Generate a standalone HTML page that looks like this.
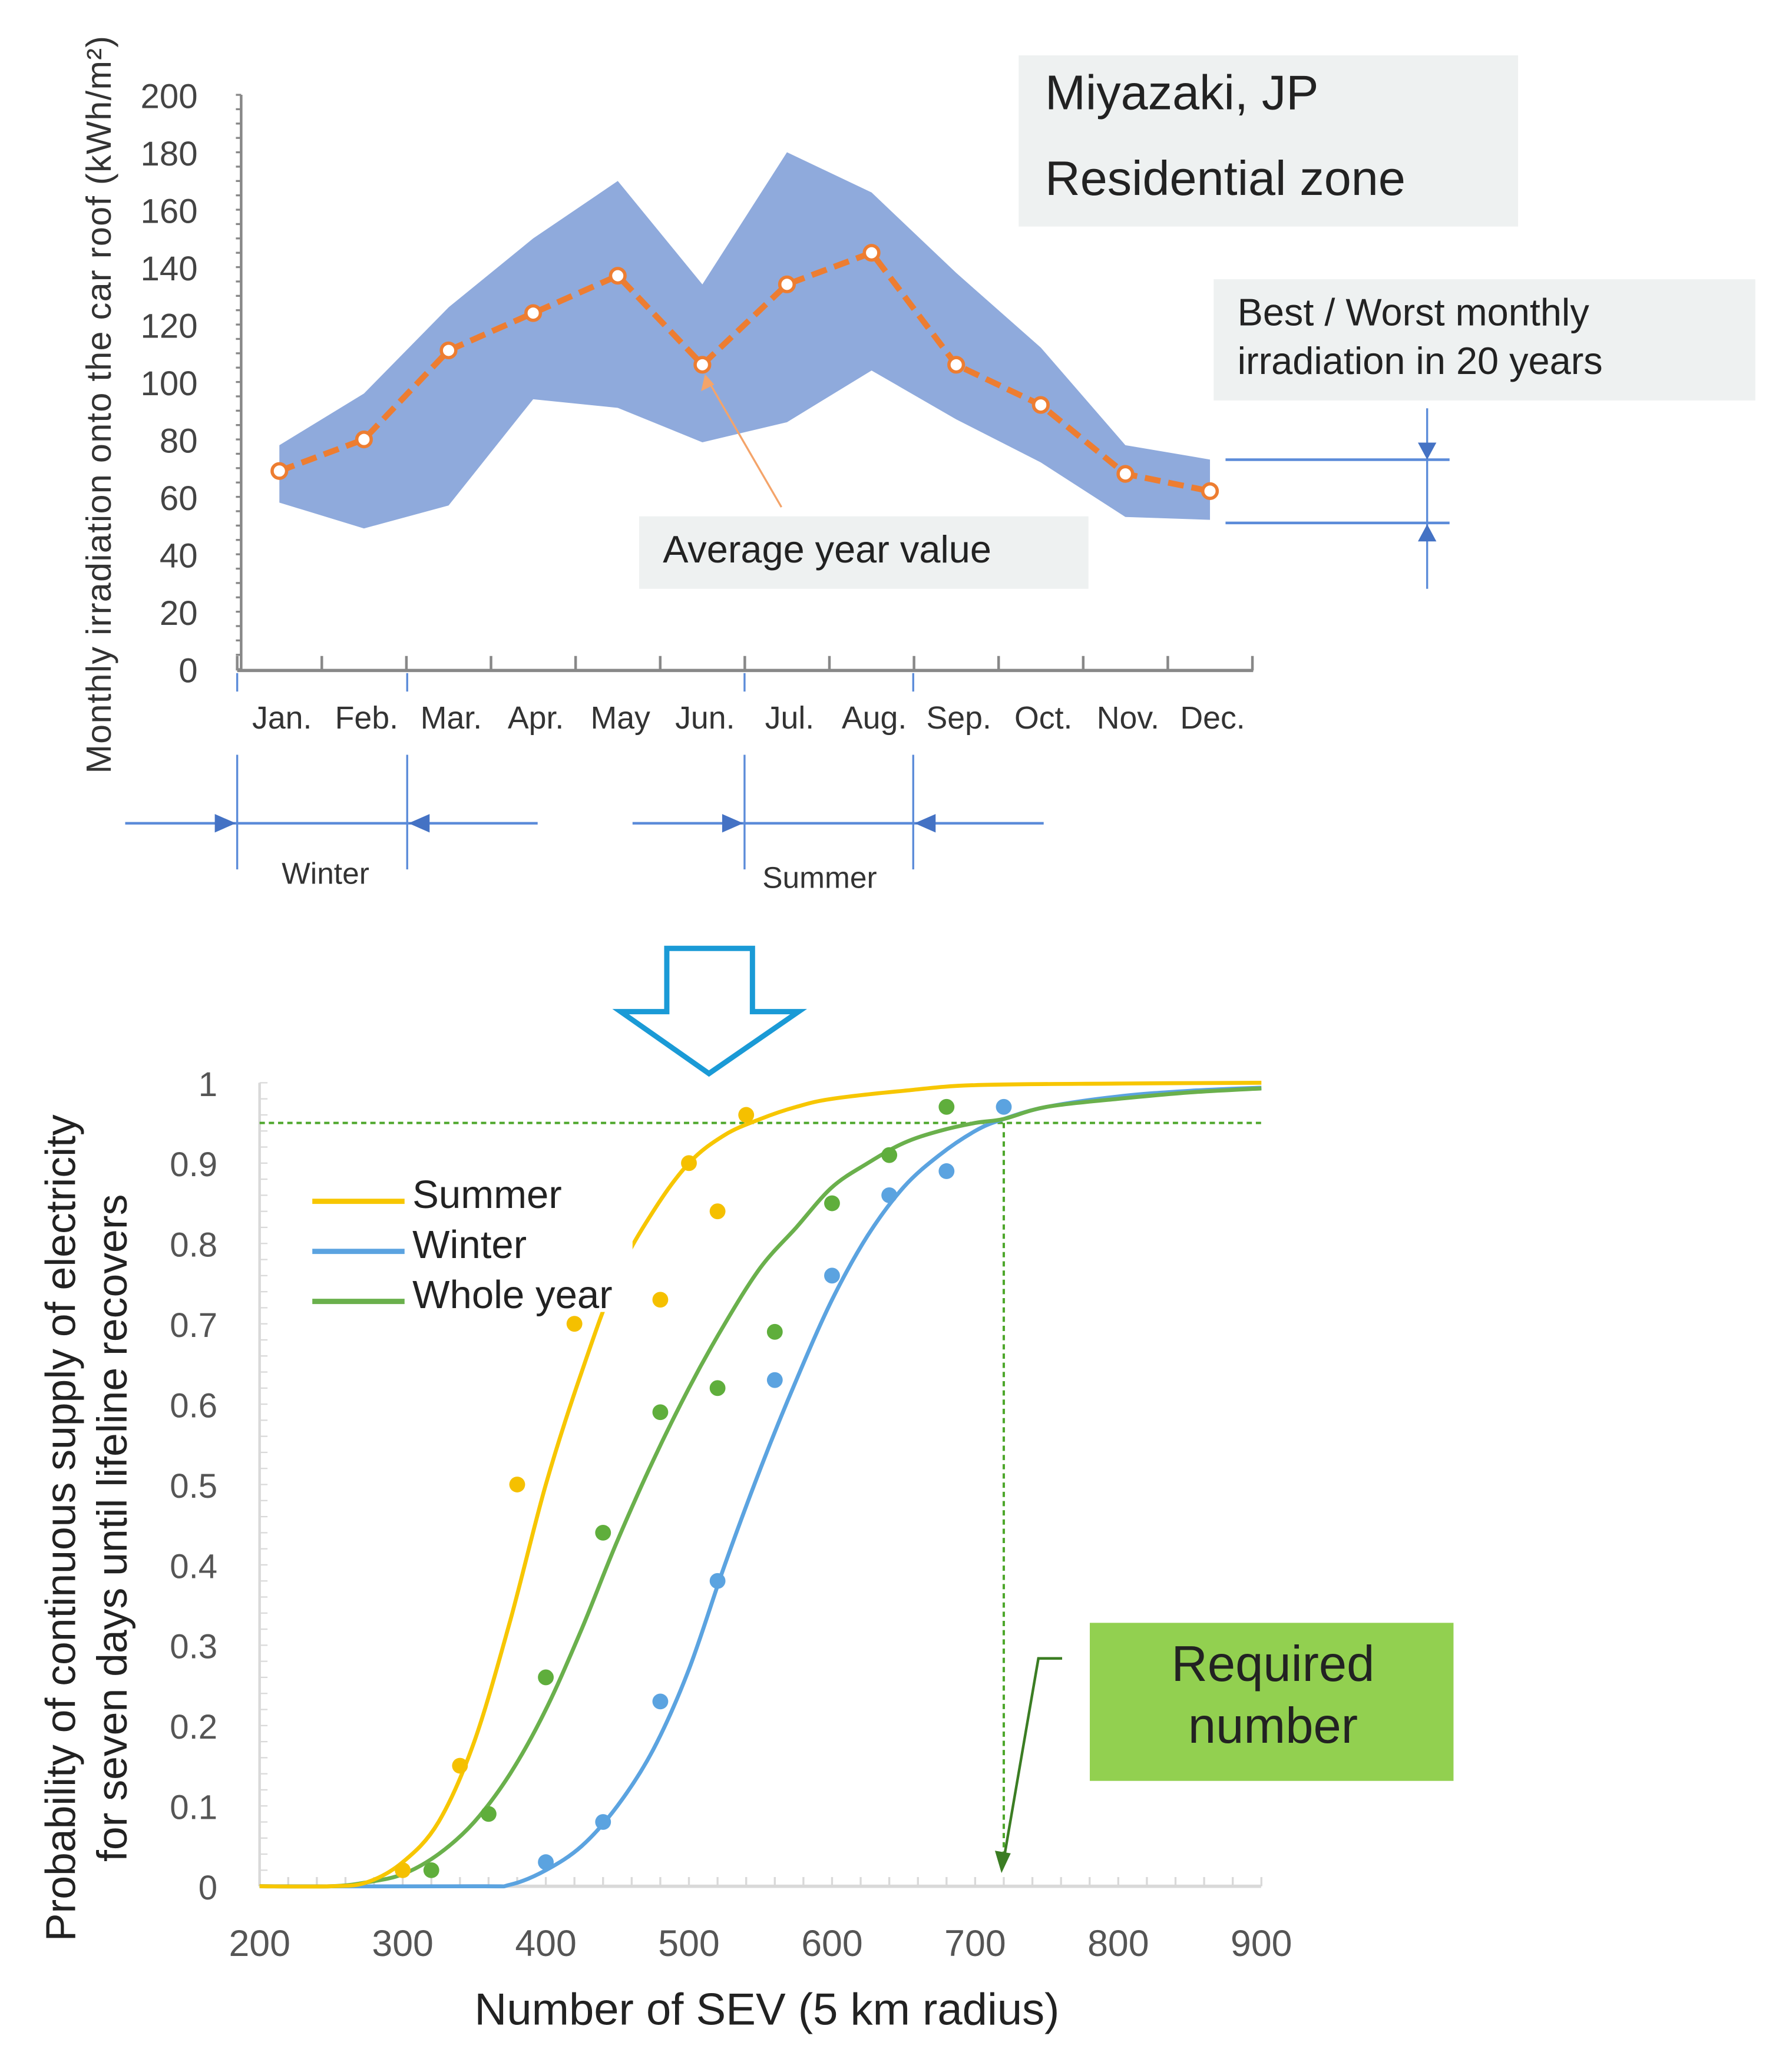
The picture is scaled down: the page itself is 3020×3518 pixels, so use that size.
<!DOCTYPE html>
<html><head><meta charset="utf-8"><style>
html,body{margin:0;padding:0;background:#fff;}
svg{display:block;font-family:"Liberation Sans",sans-serif;}
</style></head><body>
<svg id="fig" width="3020" height="3518" viewBox="0 0 1350 1573" preserveAspectRatio="none" xmlns="http://www.w3.org/2000/svg">
<rect width="1350" height="1573" fill="#fff"/>
<g id="top"></g>
<g id="bottom"></g>
</svg>
<script>
const months = ["Jan.","Feb.","Mar.","Apr.","May","Jun.","Jul.","Aug.","Sep.","Oct.","Nov.","Dec."];
const avgValues = [69,80,111,124,137,106,134,145,106,92,68,62];
const maxValues = [78,96,126,150,170,134,180,166,138,112,78,73];
const minValues = [58,49,57,94,91,79,86,104,87,72,53,52];
const topYTicks = [0,20,40,60,80,100,120,140,160,180,200];

const xTicks = [200,300,400,500,600,700,800,900];
const yTicks = [0,0.1,0.2,0.3,0.4,0.5,0.6,0.7,0.8,0.9,1];
const summerCurveX = [200,250,275,300,325,350,375,400,425,450,475,500,525,550,575,600,650,700,800,900];
const summerCurveY = [0,0,0.005,0.03,0.08,0.18,0.33,0.5,0.64,0.76,0.84,0.9,0.935,0.955,0.97,0.98,0.99,0.997,0.999,1];
const wholeCurveX = [200,250,275,300,325,350,375,400,425,450,475,500,525,550,575,600,625,650,675,700,720,750,800,850,900];
const wholeCurveY = [0,0,0.005,0.015,0.04,0.08,0.14,0.22,0.32,0.43,0.53,0.62,0.7,0.77,0.82,0.87,0.9,0.925,0.94,0.95,0.955,0.97,0.98,0.988,0.993];
const winterCurveX = [200,350,375,400,425,450,475,500,525,550,575,600,625,650,675,700,720,750,800,850,900];
const winterCurveY = [0,0,0.002,0.02,0.05,0.1,0.17,0.27,0.4,0.52,0.63,0.73,0.81,0.87,0.91,0.94,0.955,0.97,0.983,0.99,0.994];
const summerPtsX = [300,340,380,420,480,500,520,540];
const summerPtsY = [0.02,0.15,0.5,0.7,0.73,0.9,0.84,0.96];
const wholePtsX = [320,360,400,440,480,520,560,600,640,680];
const wholePtsY = [0.02,0.09,0.26,0.44,0.59,0.62,0.69,0.85,0.91,0.97];
const winterPtsX = [400,440,480,520,560,600,640,680,720];
const winterPtsY = [0.03,0.08,0.23,0.38,0.63,0.76,0.86,0.89,0.97];

const NS="http://www.w3.org/2000/svg";
function mk(parent,tag,attrs,text){const e=document.createElementNS(NS,tag);for(const k in attrs)e.setAttribute(k,attrs[k]);if(text!==undefined)e.textContent=text;parent.appendChild(e);return e;}

// ---------- TOP CHART ----------
const T=document.getElementById('top');
const tx=i=>212+i*64.2;
const ty=v=>508-v*2.18;
let b=mk(T,'rect',{x:773,y:42,width:379,height:130,fill:'#eef1f1'});

let t=mk(T,'text',{x:793,y:83,'font-size':37,fill:'#222'},'Miyazaki, JP');

t=mk(T,'text',{x:793,y:148,'font-size':37,fill:'#222'},'Residential  zone');

b=mk(T,'rect',{x:921,y:212,width:411,height:92,fill:'#eef1f1'});

t=mk(T,'text',{x:939,y:247,'font-size':29,fill:'#222'},'Best / Worst monthly');

t=mk(T,'text',{x:939,y:284,'font-size':29,fill:'#222'},'irradiation in 20 years');

let pts=[];for(let i=0;i<12;i++)pts.push(tx(i)+','+ty(maxValues[i]));for(let i=11;i>=0;i--)pts.push(tx(i)+','+ty(minValues[i]));
let band=mk(T,'polygon',{points:pts.join(' '),fill:'#8faadc'});

let d=avgValues.map((v,i)=>(i?'L':'M')+tx(i)+' '+ty(v)).join(' ');
let al=mk(T,'path',{d:d,fill:'none',stroke:'#ed7d31','stroke-width':4.5,'stroke-dasharray':'12 6'});

avgValues.forEach((v,i)=>{const c=mk(T,'circle',{cx:tx(i),cy:ty(v),r:5.5,fill:'#fff',stroke:'#ed7d31','stroke-width':2.5});
});
b=mk(T,'rect',{x:485,y:392,width:341,height:55,fill:'#eef1f1'});

t=mk(T,'text',{x:503,y:427,'font-size':29,fill:'#222'},'Average year value');

let ar=mk(T,'line',{x1:593,y1:385,x2:538,y2:290,stroke:'#f4a46a','stroke-width':1.5});

mk(T,'polygon',{points:'535,284 532,297 542,292',fill:'#f4a46a'});
let ax=mk(T,'line',{x1:183,y1:72,x2:183,y2:510,stroke:'#888','stroke-width':2});

for(let v=0;v<=200;v+=5){mk(T,'line',{x1:179,y1:ty(v),x2:183,y2:ty(v),stroke:'#888','stroke-width':1.5});}
topYTicks.forEach(v=>{const e=mk(T,'text',{x:150,y:ty(v)+10,'font-size':26,fill:'#444','text-anchor':'end'},String(v));
});
ax=mk(T,'line',{x1:180,y1:509,x2:951,y2:509,stroke:'#888','stroke-width':2.5});

for(let i=0;i<=12;i++){const x=180+i*64.2;mk(T,'line',{x1:x,y1:498,x2:x,y2:509,stroke:'#888','stroke-width':2});}
months.forEach((m,i)=>{const e=mk(T,'text',{x:tx(i)+2,y:553,'font-size':24,fill:'#333','text-anchor':'middle'},m);
});
t=mk(T,'text',{x:0,y:0,'font-size':26.5,'letter-spacing':0.6,fill:'#333','text-anchor':'middle',transform:'translate(84,307) rotate(-90)'},'Monthly irradiation onto the car roof (kWh/m²)');

const blue='#4472c4';
[180,309,565,693].forEach(x=>{mk(T,'line',{x1:x,y1:511,x2:x,y2:525,stroke:'#5b8bd9','stroke-width':1.5});mk(T,'line',{x1:x,y1:573,x2:x,y2:660,stroke:'#5b8bd9','stroke-width':1.5});});
let sl=mk(T,'line',{x1:95,y1:625,x2:408,y2:625,stroke:'#5b8bd9','stroke-width':2});

sl=mk(T,'line',{x1:480,y1:625,x2:792,y2:625,stroke:'#5b8bd9','stroke-width':2});

mk(T,'polygon',{points:'179,625 163,618 163,632',fill:blue});
mk(T,'polygon',{points:'310,625 326,618 326,632',fill:blue});
mk(T,'polygon',{points:'564,625 548,618 548,632',fill:blue});
mk(T,'polygon',{points:'694,625 710,618 710,632',fill:blue});
t=mk(T,'text',{x:247,y:671,'font-size':23,fill:'#333','text-anchor':'middle'},'Winter');

t=mk(T,'text',{x:622,y:674,'font-size':23,fill:'#333','text-anchor':'middle'},'Summer');

mk(T,'line',{x1:930,y1:349,x2:1100,y2:349,stroke:'#5b8bd9','stroke-width':2});
mk(T,'line',{x1:930,y1:397,x2:1100,y2:397,stroke:'#5b8bd9','stroke-width':2});
let br=mk(T,'line',{x1:1083,y1:310,x2:1083,y2:447,stroke:'#5b8bd9','stroke-width':1.5});

mk(T,'polygon',{points:'1083,349 1076,336 1090,336',fill:blue});
mk(T,'polygon',{points:'1083,398 1076,411 1090,411',fill:blue});
let ba=mk(T,'polygon',{points:'506,720 571,720 571,768 606,768 538,815 471,768 506,768',fill:'none',stroke:'#1a9ad6','stroke-width':4});


// ---------- BOTTOM CHART ----------
const B=document.getElementById('bottom');
const bx=v=>197+(v-200)*1.086;
const by=v=>1432-v*610;
ax=mk(B,'line',{x1:197,y1:822,x2:197,y2:1432,stroke:'#d9d9d9','stroke-width':2});

for(let v=0;v<=1.0001;v+=0.02){mk(B,'line',{x1:197,y1:by(v),x2:203,y2:by(v),stroke:'#d9d9d9','stroke-width':1});}
ax=mk(B,'line',{x1:197,y1:1432,x2:957,y2:1432,stroke:'#d9d9d9','stroke-width':2.5});

for(let v=200;v<=900;v+=20){mk(B,'line',{x1:bx(v),y1:1425,x2:bx(v),y2:1432,stroke:'#d9d9d9','stroke-width':1.5});}
yTicks.forEach(v=>{const e=mk(B,'text',{x:165,y:by(v)+10,'font-size':26,fill:'#555','text-anchor':'end'},String(v));
});
xTicks.forEach(v=>{const e=mk(B,'text',{x:bx(v),y:1485,'font-size':28,fill:'#555','text-anchor':'middle'},String(v));
});
let rl=mk(B,'line',{x1:197,y1:by(0.95),x2:957,y2:by(0.95),stroke:'#4ea72c','stroke-width':1.8,'stroke-dasharray':'4 3'});

rl=mk(B,'line',{x1:bx(720),y1:by(0.95),x2:bx(720),y2:1418,stroke:'#4ea72c','stroke-width':1.8,'stroke-dasharray':'4 3'});

function smoothPath(P){let s='M'+P[0][0].toFixed(1)+' '+P[0][1].toFixed(1);
for(let i=0;i<P.length-1;i++){const p0=P[i-1]||P[i],p1=P[i],p2=P[i+1],p3=P[i+2]||p2;
const c1=[p1[0]+(p2[0]-p0[0])/6,p1[1]+(p2[1]-p0[1])/6],c2=[p2[0]-(p3[0]-p1[0])/6,p2[1]-(p3[1]-p1[1])/6];
s+=' C'+c1[0].toFixed(1)+' '+c1[1].toFixed(1)+' '+c2[0].toFixed(1)+' '+c2[1].toFixed(1)+' '+p2[0].toFixed(1)+' '+p2[1].toFixed(1);}
return s;}
function curve(xs,ys,color,name){const P=xs.map((x,i)=>[bx(x),by(ys[i])]);
const p=mk(B,'path',{d:smoothPath(P),fill:'none',stroke:color,'stroke-width':3,'stroke-linejoin':'round'});
}
function points(xs,ys,color,name){xs.forEach((x,i)=>{const c=mk(B,'circle',{cx:bx(x),cy:by(ys[i]),r:6,fill:color});
});}
curve(winterCurveX,winterCurveY,'#5ba3e0','winter-curve');
curve(wholeCurveX,wholeCurveY,'#6ab04c','whole-year-curve');
curve(summerCurveX,summerCurveY,'#f7c600','summer-curve');
points(summerPtsX,summerPtsY,'#f5c000','summer-point');
points(wholePtsX,wholePtsY,'#5fae3c','whole-year-point');
points(winterPtsX,winterPtsY,'#5ba3e0','winter-point');
mk(B,'rect',{x:230,y:888,width:250,height:108,fill:'#fff'});
[['Summer','#f7c600',912],['Winter','#5ba3e0',950],['Whole year','#6ab04c',988]].forEach(l=>{
const ln=mk(B,'line',{x1:237,y1:l[2],x2:307,y2:l[2],stroke:l[1],'stroke-width':4});

const e=mk(B,'text',{x:313,y:l[2]+5,'font-size':30,fill:'#222'},l[0]);
});
b=mk(B,'rect',{x:827,y:1232,width:276,height:120,fill:'#92d050'});

t=mk(B,'text',{x:966,y:1276,'font-size':38,fill:'#222','text-anchor':'middle'},'Required');

t=mk(B,'text',{x:966,y:1323,'font-size':38,fill:'#222','text-anchor':'middle'},'number');

let pa=mk(B,'polyline',{points:'806,1259 788,1259 762,1410',fill:'none',stroke:'#3b7d23','stroke-width':2});

mk(B,'polygon',{points:'760,1422 755,1405 767,1407',fill:'#3b7d23'});
t=mk(B,'text',{x:582,y:1537,'font-size':34,fill:'#222','text-anchor':'middle'},'Number of SEV (5 km radius)');

t=mk(B,'text',{x:0,y:0,'font-size':32,fill:'#222','text-anchor':'middle',transform:'translate(57,1160) rotate(-90)'},'Probability of continuous supply of electricity');

t=mk(B,'text',{x:0,y:0,'font-size':32,fill:'#222','text-anchor':'middle',transform:'translate(96,1160) rotate(-90)'},'for seven days until lifeline recovers');

</script>
</body></html>
